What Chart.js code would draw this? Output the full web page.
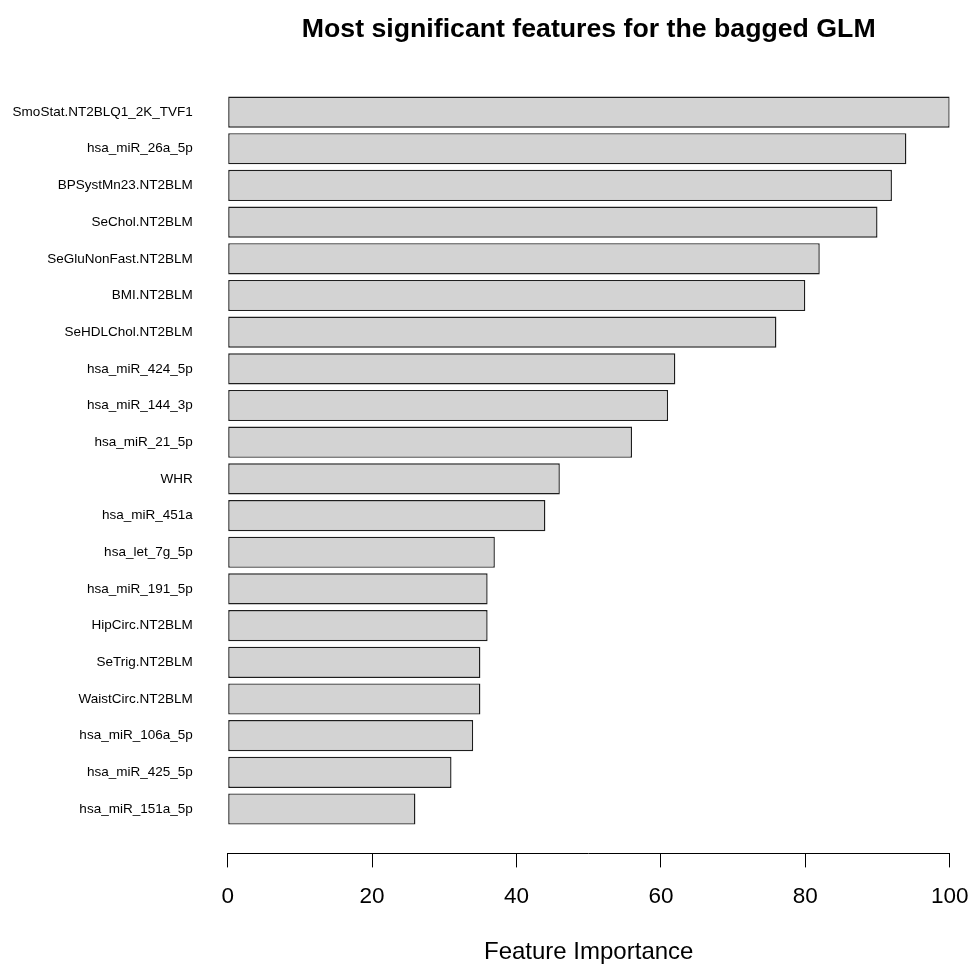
<!DOCTYPE html>
<html>
<head>
<meta charset="utf-8">
<title>Most significant features for the bagged GLM</title>
<script src="https://cdn.jsdelivr.net/npm/chart.js@4.4.1/dist/chart.umd.min.js"></script>
<style>
  html, body { margin: 0; padding: 0; background: #ffffff; }
  #wrap { width: 973px; height: 964px; position: relative; }
</style>
</head>
<body>
<div id="wrap"><canvas id="chart"></canvas></div>
<script>
// Feature names, top to bottom
const features = [
  "SmoStat.NT2BLQ1_2K_TVF1",
  "hsa_miR_26a_5p",
  "BPSystMn23.NT2BLM",
  "SeChol.NT2BLM",
  "SeGluNonFast.NT2BLM",
  "BMI.NT2BLM",
  "SeHDLChol.NT2BLM",
  "hsa_miR_424_5p",
  "hsa_miR_144_3p",
  "hsa_miR_21_5p",
  "WHR",
  "hsa_miR_451a",
  "hsa_let_7g_5p",
  "hsa_miR_191_5p",
  "HipCirc.NT2BLM",
  "SeTrig.NT2BLM",
  "WaistCirc.NT2BLM",
  "hsa_miR_106a_5p",
  "hsa_miR_425_5p",
  "hsa_miR_151a_5p"
];

// Scaled importance (0-100)
const importance = [100, 94, 92, 90, 82, 80, 76, 62, 61, 56, 46, 44, 37, 36, 36, 35, 35, 34, 31, 26];

// Axis ticks for importance
const importanceTicks = [0, 20, 40, 60, 80, 100];

const FONT = "'Liberation Sans', Arial, Helvetica, sans-serif";

// Bars sit at integer positions on a linear axis so the plot region
// can extend a little past the first and last bar
const points = importance.map((v, i) => ({ x: v, y: i }));

new Chart(document.getElementById("chart"), {
  type: "bar",
  data: {
    datasets: [{
      data: points,
      backgroundColor: "#d3d3d3",
      borderColor: "#1e1e1e",
      borderWidth: 1.4,
      borderSkipped: false,
      categoryPercentage: 1,
      barPercentage: 0.85
    }]
  },
  options: {
    indexAxis: "y",
    responsive: true,
    maintainAspectRatio: false,
    animation: false,
    layout: { padding: { left: 0, right: 23.3, top: 0, bottom: 0 } },
    plugins: {
      legend: { display: false },
      tooltip: { enabled: false },
      title: {
        display: true,
        fullSize: false,
        text: "Most significant features for the bagged GLM",
        color: "#000000",
        font: { family: FONT, size: 26.7, weight: "bold", lineHeight: 1 },
        padding: { top: 16.5, bottom: 24.5 }
      }
    },
    scales: {
      x: {
        type: "linear",
        position: "bottom",
        min: 0,
        max: 100,
        afterBuildTicks: (scale) => {
          scale.ticks = importanceTicks.map(v => ({ value: v }));
        },
        afterFit: (scale) => {
          scale.height = 110.6;
          scale.paddingLeft = 0;
          scale.paddingRight = 0;
        },
        ticks: {
          color: "#000000",
          font: { family: FONT, size: 22.5 },
          padding: 16,
          maxRotation: 0,
          autoSkip: false
        },
        grid: {
          display: true,
          drawOnChartArea: false,
          drawTicks: true,
          tickLength: 14,
          color: "#000000",
          lineWidth: 1
        },
        border: { display: true, color: "#000000", width: 1 },
        title: {
          display: true,
          text: "Feature Importance",
          color: "#000000",
          font: { family: FONT, size: 24, lineHeight: 1 },
          padding: { top: 20, bottom: 0 }
        }
      },
      y: {
        type: "linear",
        position: "left",
        reverse: true,
        offset: false,
        min: -1.21,
        max: features.length - 1 + 1.21,
        afterBuildTicks: (scale) => {
          scale.ticks = features.map((_, i) => ({ value: i }));
        },
        afterFit: (scale) => {
          scale.width = 227.7;
          scale.paddingTop = 0;
          scale.paddingBottom = 0;
        },
        ticks: {
          color: "#000000",
          font: { family: FONT, size: 13.5 },
          padding: 35,
          autoSkip: false,
          callback: (value) => features[value]
        },
        grid: { display: false, drawTicks: false, offset: false },
        border: { display: false }
      }
    }
  }
});
</script>
</body>
</html>
